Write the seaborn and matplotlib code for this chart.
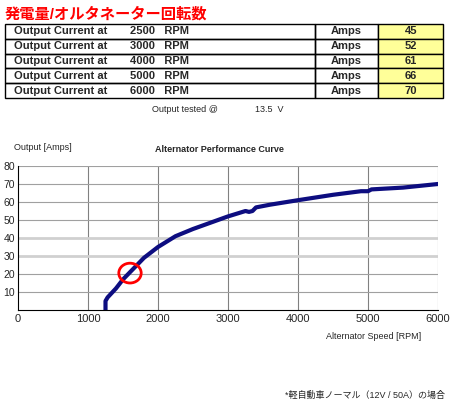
import matplotlib
matplotlib.use("Agg")
import matplotlib.pyplot as plt
import seaborn as sns
import pandas as pd
from matplotlib.patches import Rectangle, Ellipse

sns.set_style("white")
plt.rcParams['font.family'] = ['Liberation Sans', 'Noto Sans CJK JP', 'DejaVu Sans']

table_rpm = [2500, 3000, 4000, 5000, 6000]
table_amps = [45, 52, 61, 66, 70]
rpm = [1250, 1250, 1280, 1400, 1500, 1600, 1700, 1800, 2000, 2250, 2500, 2750, 3000, 3250, 3300, 3350, 3400, 3600, 4000, 4500, 4900, 5000, 5050, 5500, 6000]
amps = [0, 5, 7, 12, 17, 21, 25, 29, 35, 41, 45, 48.5, 52, 55, 54.5, 55, 57, 58.5, 61, 64, 66, 66, 67, 68, 70]

fig = plt.figure(figsize=(4.5, 4.2), dpi=100)
bg = fig.add_axes([0, 0, 1, 1])
bg.set_xlim(0, 450); bg.set_ylim(420, 0); bg.axis('off')

bg.text(5, 14, "発電量/オルタネーター回転数", color='red', fontsize=11, fontweight='bold', va='center')
top, rh = 24, 14.8
for i, (r, a) in enumerate(zip(table_rpm, table_amps)):
    y = top + i * rh
    bg.add_patch(Rectangle((5, y), 310, rh, fill=False, lw=1, ec='black'))
    bg.add_patch(Rectangle((315, y), 63, rh, fill=False, lw=1, ec='black'))
    bg.add_patch(Rectangle((378, y), 65, rh, fc='#ffff99', lw=1, ec='black'))
    bg.text(14, y + rh / 2, "Output Current at", fontsize=8, fontweight='bold', va='center')
    bg.text(130, y + rh / 2, f"{r}   RPM", fontsize=8, fontweight='bold', va='center')
    bg.text(346, y + rh / 2, "Amps", fontsize=8, fontweight='bold', va='center', ha='center')
    bg.text(411, y + rh / 2, str(a), fontsize=8, fontweight='bold', va='center', ha='center')
bg.text(152, 110, "Output tested @", fontsize=6.5, va='center')
bg.text(255, 110, "13.5  V", fontsize=6.5, va='center')
bg.text(14, 148, "Output [Amps]", fontsize=6.5, va='center')
bg.text(155, 149, "Alternator Performance Curve", fontsize=6.5, fontweight='bold', va='center')
bg.text(445, 395, "*軽自動車ノーマル（12V / 50A）の場合", fontsize=6.5, va='center', ha='right')

ax = fig.add_axes([18/450, 1-310/420, 420/450, 144/420])
ax.set_xlim(0, 6000); ax.set_ylim(0, 80)
for x in range(1000, 6001, 1000):
    ax.axvline(x, color='#808080', lw=0.8, zorder=0)
for yv in range(10, 81, 10):
    if yv in (30, 40):
        ax.axhline(yv, color='#d0d0d0', lw=2, zorder=0)
    else:
        ax.axhline(yv, color='#a0a0a0', lw=0.8, zorder=0)
df = pd.DataFrame({"rpm": rpm, "amps": amps})
sns.lineplot(data=df, x="rpm", y="amps", ax=ax, color='#0d0d80', lw=3, sort=False, estimator=None)
ax.add_patch(Ellipse((1600, 20.5), 320, 11, fill=False, ec='red', lw=2, zorder=5))
ax.set_xticks(range(0, 6001, 1000))
ax.set_xticks(range(0, 6001, 200), minor=True)
ax.set_yticks(range(10, 81, 10))
ax.tick_params(axis='x', labelsize=8, length=2, pad=1, direction='out')
ax.tick_params(axis='y', labelsize=7.5, length=1.5, pad=0.5, direction='out')
ax.tick_params(axis='x', which='minor', length=1.5)
ax.set_xlabel(""); ax.set_ylabel("")
for s in ['top', 'right']:
    ax.spines[s].set_visible(False)
for s in ['left', 'bottom']:
    ax.spines[s].set_color('black'); ax.spines[s].set_linewidth(0.8)
ax.text(0.96, -0.15, "Alternator Speed [RPM]", transform=ax.transAxes, ha='right', va='top', fontsize=6.5)

fig.savefig("out.png", dpi=100)
